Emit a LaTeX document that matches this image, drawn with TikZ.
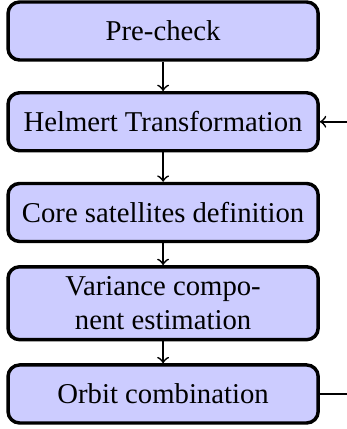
\documentclass[tikz,border=0pt]{standalone}
\usepackage{fontspec}
\setmainfont{Liberation Serif}
\usetikzlibrary{positioning}

\begin{document}
\begin{tikzpicture}[node distance=31.6pt,on grid,
    stage/.style={draw,very thick,rounded corners,fill=blue!20,minimum width=108pt,minimum height=20.2pt,align=center},
    every path/.style={semithick}]
     \useasboundingbox (-56.8pt,10.8pt) rectangle (63.7pt,-138.6pt);
     \node[stage] (pre_check) {Pre-check};
     \node[stage] (helmert) [below=of pre_check] {Helmert Transformation};
     \node[stage] (core_sat) [below=of helmert] {Core satellites definition};
     \node[stage] (var_comp) [below=of core_sat] {Variance compo-\\nent estimation};
     \node[stage] (orbit_comb) [below=of var_comp] {Orbit combination};
      \path[->]
      (pre_check) edge (helmert)
      (helmert) edge (core_sat)
      (core_sat) edge (var_comp)
      (var_comp) edge (orbit_comb);
      \draw[->] (orbit_comb.east) -- ++(20pt,0) |- (helmert.east);
    \end{tikzpicture}
\end{document}
